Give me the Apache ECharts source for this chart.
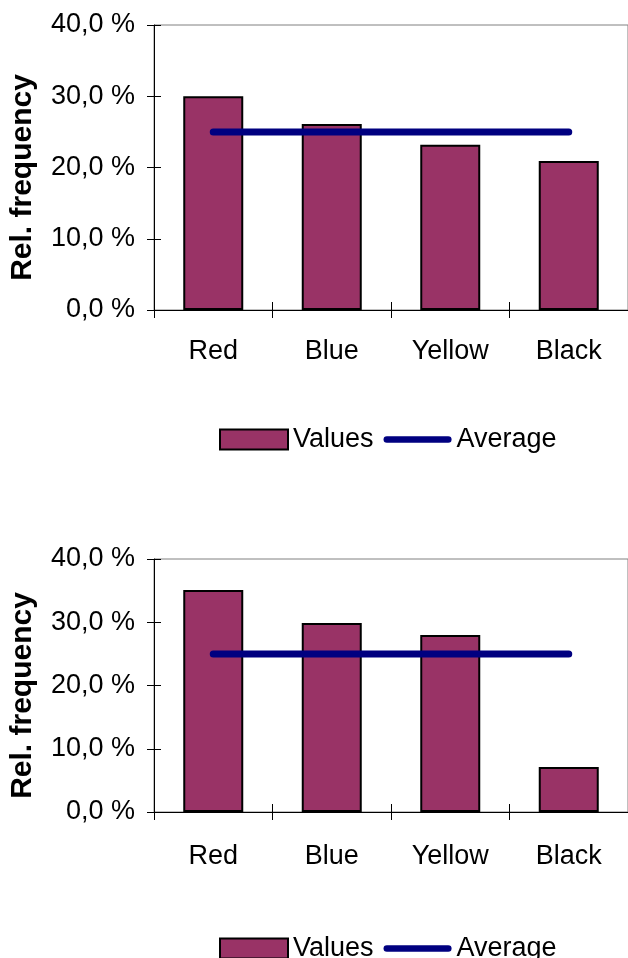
<!DOCTYPE html>
<html>
<head>
<meta charset="utf-8">
<script src="https://cdn.jsdelivr.net/npm/echarts@6/dist/echarts.min.js"></script>
<style>
  html, body { margin: 0; padding: 0; background: #ffffff; }
  #chart { width: 628px; height: 958px; }
</style>
</head>
<body>
<div id="chart"></div>
<script>
// Colour categories shared by both panels
const categories = ['Red', 'Blue', 'Yellow', 'Black'];

// Upper panel: relative frequencies (%) and their mean
const valuesTop = [30.0, 26.1, 23.2, 20.9];
const averageTop = [25, 25, 25, 25];

// Lower panel: relative frequencies (%) and their mean
const valuesBottom = [35.1, 29.9, 28.0, 7.1];
const averageBottom = [25, 25, 25, 25];

// Value-axis ticks (%)
const yTicks = { min: 0, max: 40, interval: 10 };

const FONT = "'Liberation Sans', Arial, sans-serif";
const BAR_FILL = '#993366';
const LINE_COLOR = '#000080';
// thick rounded stroke used as the legend key for the mean line
const LINE_ICON = 'path://M3.5,0 L68.5,0 A3.5,3.5 0 0 1 68.5,7 L3.5,7 A3.5,3.5 0 0 1 3.5,0 Z';

const pctLabel = v => v.toFixed(1).replace('.', ',') + ' %';

const grids = [
  { left: 154, top: 25, width: 477, height: 285 },
  { left: 154, top: 559, width: 477, height: 253 }
];

function mainX(gridIndex, margin) {
  return {
    type: 'category', gridIndex, data: categories, position: 'bottom',
    axisLine: { lineStyle: { color: '#000', width: 1 } },
    axisTick: { show: true, length: 8, lineStyle: { color: '#000' } },
    axisLabel: { color: '#000', fontSize: 27, fontFamily: FONT, margin },
    splitLine: { show: false }
  };
}
function overlayX(gridIndex) {
  // second tick set pointing into the plot so the ticks cross the axis
  return {
    type: 'category', gridIndex, data: categories, position: 'bottom',
    axisLine: { show: false },
    axisTick: { show: true, inside: true, length: 8, lineStyle: { color: '#000' } },
    axisLabel: { show: false },
    splitLine: { show: false }
  };
}
function mainY(gridIndex) {
  return {
    type: 'value', gridIndex, position: 'left', ...yTicks,
    name: 'Rel. frequency', nameLocation: 'middle', nameGap: 116,
    nameTextStyle: { color: '#000', fontSize: 30, fontWeight: 'bold', fontFamily: FONT, padding: [0, 20, 0, 0] },
    axisLine: { show: true, lineStyle: { color: '#000', width: 1 } },
    axisTick: { show: true, length: 7, lineStyle: { color: '#000' } },
    axisLabel: { color: '#000', fontSize: 27, fontFamily: FONT, margin: 19, formatter: pctLabel },
    splitLine: { show: false }
  };
}
function overlayY(gridIndex) {
  return {
    type: 'value', gridIndex, position: 'left', ...yTicks,
    axisLine: { show: false },
    axisTick: { show: true, inside: true, length: 7, lineStyle: { color: '#000' } },
    axisLabel: { show: false },
    splitLine: { show: false }
  };
}

function barSeries(axisIndex, data) {
  return {
    name: 'Values', type: 'bar', xAxisIndex: axisIndex, yAxisIndex: axisIndex,
    data, barWidth: 60,
    itemStyle: { color: BAR_FILL, borderColor: '#000', borderWidth: 2 },
    z: 2
  };
}
function lineSeries(axisIndex, data) {
  return {
    name: 'Average', type: 'line', xAxisIndex: axisIndex, yAxisIndex: axisIndex,
    data, symbol: 'none', showSymbol: false,
    lineStyle: { color: LINE_COLOR, width: 7, cap: 'round' },
    itemStyle: { color: LINE_COLOR },
    z: 3
  };
}

function legendAt(top) {
  return {
    left: 214, top, orient: 'horizontal',
    itemWidth: 68, itemHeight: 20, itemGap: 10,
    data: [
      { name: 'Values', icon: 'rect', itemStyle: { color: BAR_FILL, borderColor: '#000', borderWidth: 2 } },
      { name: 'Average', icon: LINE_ICON, itemStyle: { color: LINE_COLOR, borderWidth: 0 } }
    ],
    textStyle: { color: '#000', fontSize: 27, fontFamily: FONT },
    selectedMode: false
  };
}

const chart = echarts.init(document.getElementById('chart'), null, { renderer: 'canvas' });
chart.setOption({
  animation: false,
  backgroundColor: '#ffffff',
  textStyle: { fontFamily: FONT },
  grid: grids.map(g => ({ ...g, show: true, borderColor: '#808080', borderWidth: 1, backgroundColor: '#fff', containLabel: false })),
  xAxis: [mainX(0, 28), overlayX(0), mainX(1, 31), overlayX(1)],
  yAxis: [mainY(0), overlayY(0), mainY(1), overlayY(1)],
  legend: [legendAt(421), legendAt(930)],
  series: [
    barSeries(0, valuesTop),
    lineSeries(0, averageTop),
    barSeries(2, valuesBottom),
    lineSeries(2, averageBottom)
  ]
});
</script>
</body>
</html>
